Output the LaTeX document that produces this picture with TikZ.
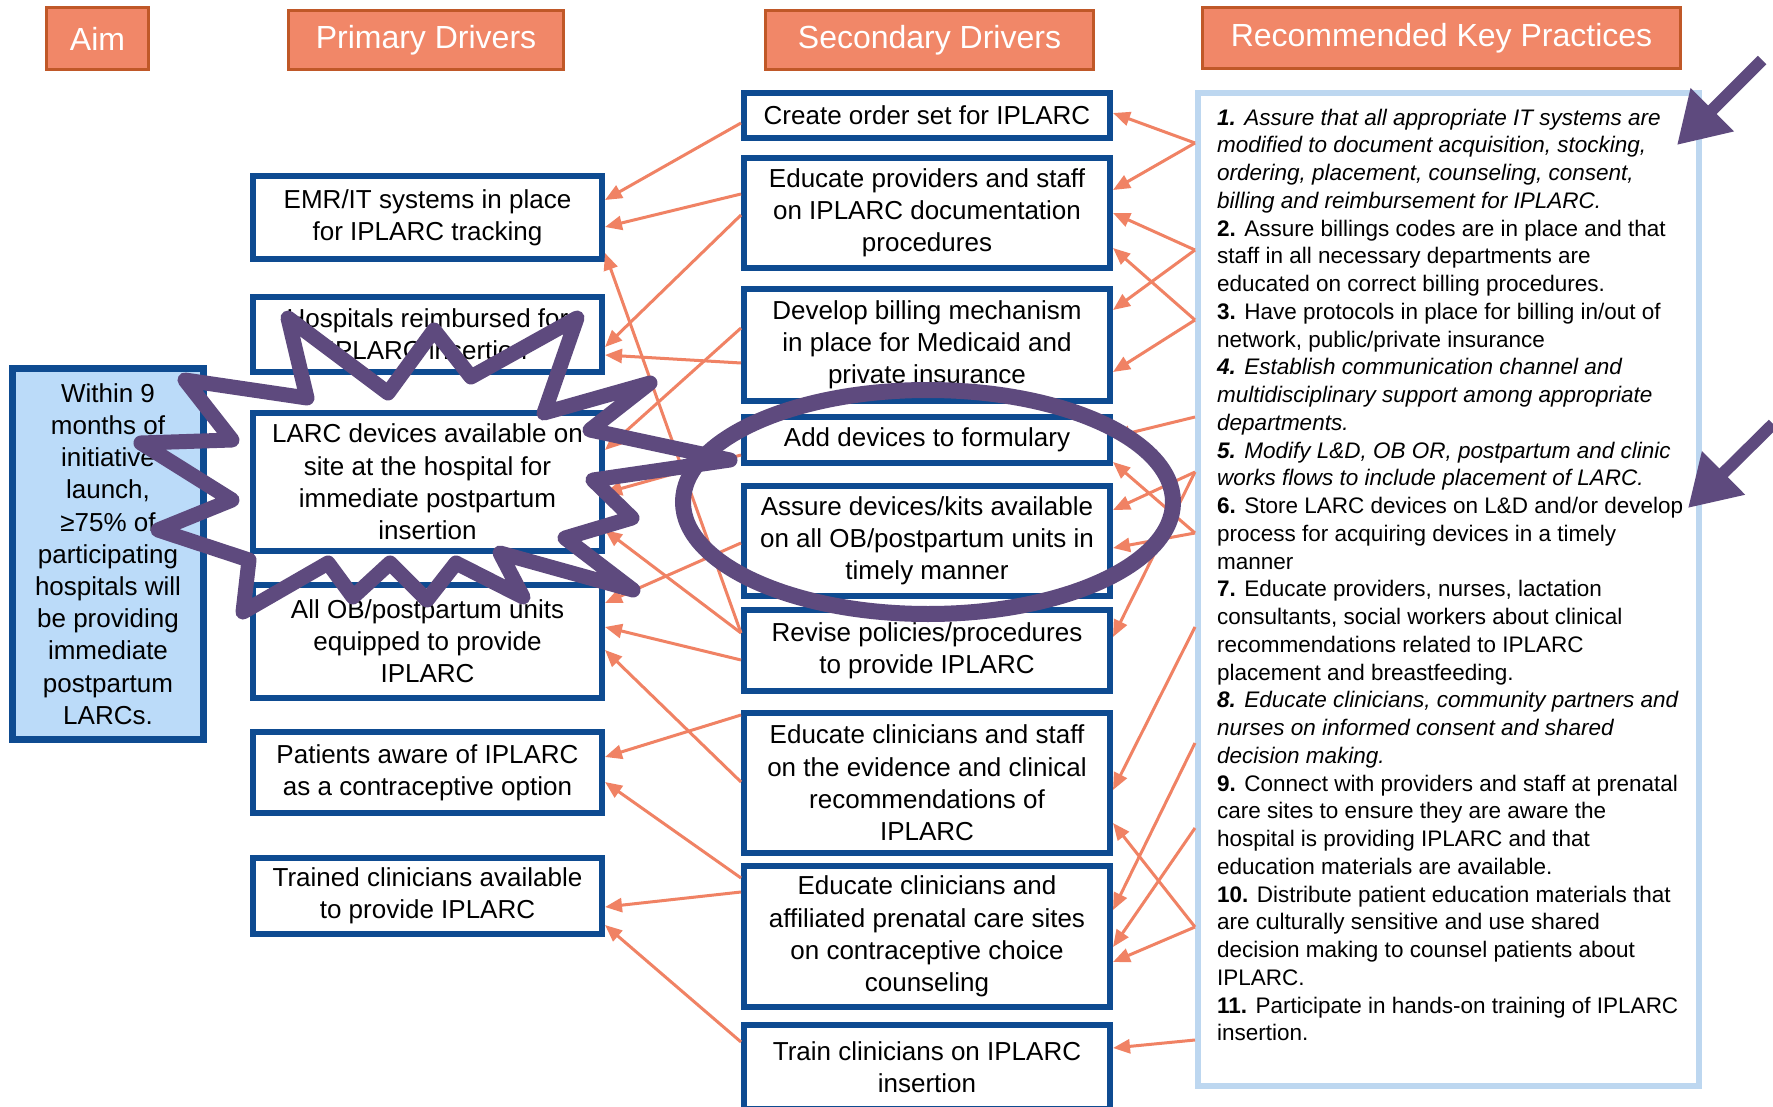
\documentclass[tikz,border=0pt]{standalone}
\usepackage{fontspec}
\setmainfont{Liberation Sans}
\usetikzlibrary{arrows.meta}

\definecolor{boxblue}{RGB}{14,75,145}
\definecolor{aimfill}{RGB}{187,219,249}
\definecolor{hdfill}{RGB}{241,135,104}
\definecolor{hdline}{RGB}{192,88,40}
\definecolor{linkred}{RGB}{240,130,100}
\definecolor{panelblue}{RGB}{189,215,240}
\definecolor{notepurple}{RGB}{94,74,126}

\tikzset{
	header/.style={draw=hdline, line width=3pt, fill=hdfill, text=white, inner sep=0pt,
		font=\fontsize{32}{38}\selectfont},
	driver/.style={draw=boxblue, line width=6pt, fill=white, align=center, inner sep=0pt,
		font=\fontsize{26}{32.2}\selectfont},
	primbox/.style={driver, minimum width=349pt},
	secbox/.style={driver, minimum width=366pt},
	fanlink/.style={draw=linkred, line width=3pt, ->, >={Triangle[length=17pt,width=14pt]}},
	burst/.style={draw=notepurple, line width=15pt, line join=round},
	pointer/.style={draw=notepurple, line width=12pt, -{Triangle[length=50pt,width=58pt]}}
}

\begin{document}
\begin{tikzpicture}[x=1pt, y=-1pt]
	\useasboundingbox (0,0) rectangle (1773,1107);
	\fill[white] (0,0) rectangle (1773,1107);

	% column headers
	\node[header, minimum width=102pt, minimum height=62pt] (aimhd) at (97.5,38.5) {Aim};
	\node[header, minimum width=275pt, minimum height=59pt] (primhd) at (426,40) {Primary Drivers};
	\node[header, minimum width=328pt, minimum height=59pt] (sechd) at (929.5,40) {Secondary Drivers};
	\node[header, minimum width=478pt, minimum height=61pt] (keyhd) at (1441.5,38) {Recommended Key Practices};

	% aim
	\node[driver, line width=7pt, fill=aimfill, minimum width=191pt, minimum height=371pt] (aim) at (108,554)
		{Within 9\\months of\\initiative\\launch,\\≥75\% of\\participating\\hospitals will\\be providing\\immediate\\postpartum\\LARCs.};

	% primary drivers
	\node[primbox, minimum height=83pt] (emr) at (427.5,217.5) {EMR/IT systems in place\\for IPLARC tracking};
	\node[primbox, minimum height=75pt] (hosp) at (427.5,334.5) {Hospitals reimbursed for\\IPLARC insertion};
	\node[primbox, minimum height=138pt] (larc) at (427.5,482) {LARC devices available on\\site at the hospital for\\immediate postpartum\\insertion};
	\node[primbox, minimum height=113pt] (allob) at (427.5,641.5) {All OB/postpartum units\\equipped to provide\\IPLARC};
	\node[primbox, minimum height=81pt] (aware) at (427.5,772.5) {Patients aware of IPLARC\\as a contraceptive option};
	\node[primbox, minimum height=76pt] (trained) at (427.5,896) {Trained clinicians available\\to provide IPLARC};

	% secondary drivers
	\node[secbox, minimum height=45pt] (order) at (927,115.5) {Create order set for IPLARC};
	\node[secbox, minimum height=110pt] (eduprov) at (927,213) {Educate providers and staff\\on IPLARC documentation\\procedures};
	\node[secbox, minimum height=112pt] (billing) at (927,345) {Develop billing mechanism\\in place for Medicaid and\\private insurance};
	\node[secbox, minimum height=46pt] (adddev) at (927,440) {Add devices to formulary};
	\node[secbox, minimum height=110pt] (assure) at (927,541) {Assure devices/kits available\\on all OB/postpartum units in\\timely manner};
	\node[secbox, minimum height=81pt] (revise) at (927,650.5) {Revise policies/procedures\\to provide IPLARC};
	\node[secbox, minimum height=140pt] (educlin) at (927,783) {Educate clinicians and staff\\on the evidence and clinical\\recommendations of\\IPLARC};
	\node[secbox, minimum height=141pt] (affil) at (927,936.5) {Educate clinicians and\\affiliated prenatal care sites\\on contraceptive choice\\counseling};
	\node[secbox, minimum height=84pt] (train) at (927,1067) {Train clinicians on IPLARC\\insertion};

	% key practices
	\node[draw=panelblue, line width=6pt, minimum width=501pt, minimum height=993pt] (keybox) at (1448.5,589.5) {};
	\node[anchor=north west, inner sep=0pt, align=left, font=\fontsize{22.5}{27.75}\selectfont] (keytext) at (1217,108.5) {%
		\textbf{\textit{1.}} \textit{Assure that all appropriate IT systems are}\\
		\textit{modified to document acquisition, stocking,}\\
		\textit{ordering, placement, counseling, consent,}\\
		\textit{billing and reimbursement for IPLARC.}\\
		\textbf{2.} Assure billings codes are in place and that\\
		staff in all necessary departments are\\
		educated on correct billing procedures.\\
		\textbf{3.} Have protocols in place for billing in/out of\\
		network, public/private insurance\\
		\textbf{\textit{4.}} \textit{Establish communication channel and}\\
		\textit{multidisciplinary support among appropriate}\\
		\textit{departments.}\\
		\textbf{\textit{5.}} \textit{Modify L\&D, OB OR, postpartum and clinic}\\
		\textit{works flows to include placement of LARC.}\\
		\textbf{6.} Store LARC devices on L\&D and/or develop\\
		process for acquiring devices in a timely\\
		manner\\
		\textbf{7.} Educate providers, nurses, lactation\\
		consultants, social workers about clinical\\
		recommendations related to IPLARC\\
		placement and breastfeeding.\\
		\textbf{\textit{8.}} \textit{Educate clinicians, community partners and}\\
		\textit{nurses on informed consent and shared}\\
		\textit{decision making.}\\
		\textbf{9.} Connect with providers and staff at prenatal\\
		care sites to ensure they are aware the\\
		hospital is providing IPLARC and that\\
		education materials are available.\\
		\textbf{10.} Distribute patient education materials that\\
		are culturally sensitive and use shared\\
		decision making to counsel patients about\\
		IPLARC.\\
		\textbf{11.} Participate in hands-on training of IPLARC\\
		insertion.};

	% points on the practice panel
	\coordinate (k1) at ([yshift=446.5pt]keybox.west);
	\coordinate (k2) at ([yshift=339.5pt]keybox.west);
	\coordinate (k3) at ([yshift=269.5pt]keybox.west);
	\coordinate (k4) at ([yshift=172.5pt]keybox.west);
	\coordinate (k5) at ([yshift=117.5pt]keybox.west);
	\coordinate (k6) at ([yshift=56.5pt]keybox.west);
	\coordinate (k7) at ([yshift=-37.5pt]keybox.west);
	\coordinate (k8) at ([yshift=-153.5pt]keybox.west);
	\coordinate (k9) at ([yshift=-238.5pt]keybox.west);
	\coordinate (k10) at ([yshift=-337.5pt]keybox.west);
	\coordinate (k11) at ([yshift=-450.5pt]keybox.west);

	% secondary -> primary
	\draw[fanlink] ([yshift=-7.5pt]order.west) -- ([yshift=17.5pt]emr.east);
	\draw[fanlink] ([yshift=19pt]eduprov.west) -- ([yshift=-9.5pt]emr.east);
	\draw[fanlink] ([yshift=-2pt]eduprov.west) -- ([yshift=-12.5pt]hosp.east);
	\draw[fanlink] ([yshift=-18pt]billing.west) -- ([yshift=-20.5pt]hosp.east);
	\draw[fanlink] ([yshift=17pt]billing.west) -- ([yshift=32pt]larc.east);
	\draw[fanlink] ([yshift=-15pt]adddev.west) -- ([yshift=-11pt]larc.east);
	\draw[fanlink] ([yshift=17.5pt]revise.west) -- ([yshift=-35.5pt]emr.east);
	\draw[fanlink] ([yshift=-2pt]assure.west) -- ([yshift=38.5pt]allob.east);
	\draw[fanlink] ([yshift=17.5pt]revise.west) -- ([yshift=-48pt]larc.east);
	\draw[fanlink] ([yshift=-9.5pt]revise.west) -- ([yshift=14.5pt]allob.east);
	\draw[fanlink] ([yshift=1pt]educlin.west) -- ([yshift=-8.5pt]allob.east);
	\draw[fanlink] ([yshift=68pt]educlin.west) -- ([yshift=15.5pt]aware.east);
	\draw[fanlink] ([yshift=58.5pt]affil.west) -- ([yshift=-9.5pt]aware.east);
	\draw[fanlink] ([yshift=44.5pt]affil.west) -- ([yshift=-11pt]trained.east);
	\draw[fanlink] ([yshift=25pt]train.west) -- ([yshift=-29pt]trained.east);

	% practices -> secondary
	\draw[fanlink] (k1) -- ([yshift=2.5pt]order.east);
	\draw[fanlink] (k1) -- ([yshift=23pt]eduprov.east);
	\draw[fanlink] (k2) -- ([yshift=0pt]eduprov.east);
	\draw[fanlink] (k2) -- ([yshift=35pt]billing.east);
	\draw[fanlink] (k3) -- ([yshift=-35pt]eduprov.east);
	\draw[fanlink] (k3) -- ([yshift=-27pt]billing.east);
	\draw[fanlink] (k4) -- ([yshift=3pt]adddev.east);
	\draw[fanlink] (k5) -- ([yshift=31pt]assure.east);
	\draw[fanlink] (k5) -- ([yshift=13.5pt]revise.east);
	\draw[fanlink] (k6) -- ([yshift=-22pt]adddev.east);
	\draw[fanlink] (k6) -- ([yshift=-7pt]assure.east);
	\draw[fanlink] (k7) -- ([yshift=-7pt]educlin.east);
	\draw[fanlink] (k8) -- ([yshift=26.5pt]affil.east);
	\draw[fanlink] (k9) -- ([yshift=-10.5pt]affil.east);
	\draw[fanlink] (k10) -- ([yshift=-40pt]educlin.east);
	\draw[fanlink] (k10) -- ([yshift=-25.5pt]affil.east);
	\draw[fanlink] (k11) -- ([yshift=19pt]train.east);

	% purple marks
	\draw[burst] (288,318) -- (388,393) -- (434,330) -- (471,377) -- (577,318) -- (544,413)
		-- (650,383) -- (590,430) -- (730,460) -- (593,480) -- (632,518) -- (565,538)
		-- (633,590) -- (500,553) -- (523,597) -- (456,563) -- (427,600) -- (390,563)
		-- (353,597) -- (328,563) -- (243,612) -- (249,560) -- (158,530) -- (232,500)
		-- (141,443) -- (232,440) -- (185,380) -- (307,398) -- cycle;
	\draw[notepurple, line width=16pt] (928,502) ellipse (245 and 112);

	\coordinate (pa1) at (1762,60);
	\coordinate (pb1) at (1677,145);
	\coordinate (pa2) at (1773,424);
	\coordinate (pb2) at (1688,508);
	\draw[pointer] (pa1) -- (pb1);
	\draw[pointer] (pa2) -- (pb2);
\end{tikzpicture}
\end{document}
